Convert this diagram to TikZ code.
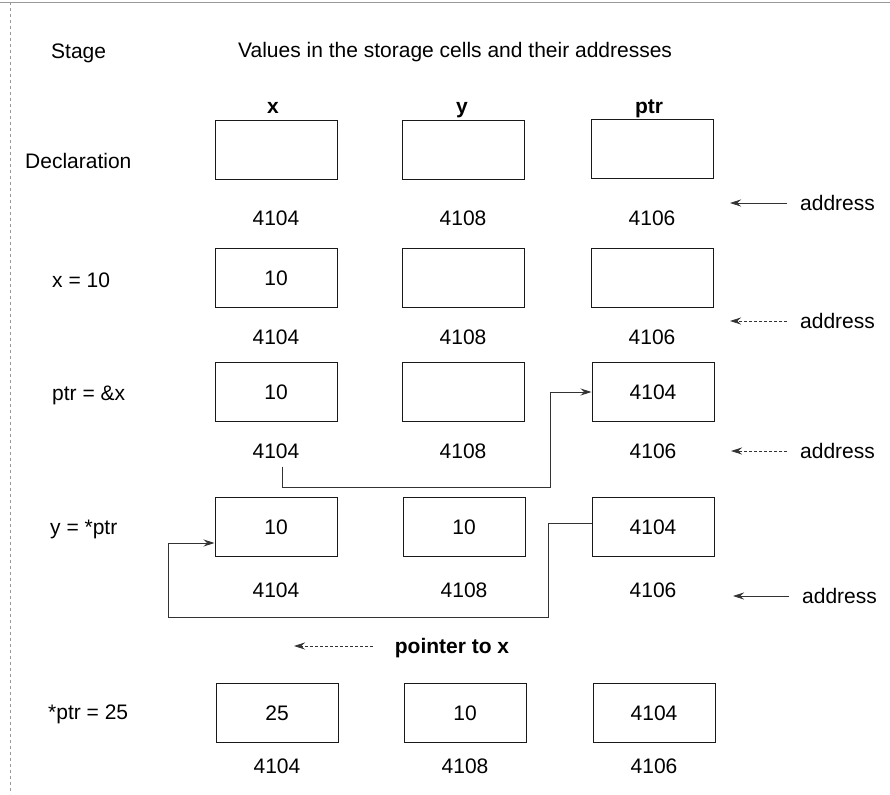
\documentclass[tikz,border=0pt]{standalone}
\usepackage{fontspec}
\setmainfont{Liberation Sans}
\usetikzlibrary{arrows.meta,calc}
\begin{document}
\begin{tikzpicture}[x=1pt,y=-1pt,
  every node/.style={font=\fontsize{21}{25}\selectfont, inner sep=0pt, text height=15pt, text depth=0pt},
  cell/.style={draw=black!90, line width=1pt, minimum width=122pt, minimum height=59pt},
  hdr/.style={font=\fontsize{21}{25}\selectfont\bfseries},
  conn/.style={draw=black!80, line width=0.8pt},
  tip/.style={-{Stealth[length=11pt,width=7pt]}},
  frame/.style={draw=black!40, line width=0.6pt}
]
\useasboundingbox (0,0) rectangle (890,794);
% frame
\draw[frame] (0,2) -- (890,2);
\draw[frame, dashed] (10,2) -- (10,794);

% titles
\node[anchor=west] (stage) at (51,51) {Stage};
\node[anchor=west] (title) at (238,50) {Values in the storage cells and their addresses};
\node[hdr] (hx) at (273,106) {x};
\node[hdr] (hy) at (462,106) {y};
\node[hdr] (hp) at (649,106) {ptr};

% stage labels
\node[anchor=west] (s1) at (25,161) {Declaration};
\node[anchor=west] (s2) at (52,280) {x = 10};
\node[anchor=west] (s3) at (52,393) {ptr = \&x};
\node[anchor=west] (s4) at (50,527) {y = *ptr};
\node[anchor=west] (s5) at (48,712) {*ptr = 25};

% row 1
\node[cell] (x1) at (276,150) {};
\node[cell] (y1) at (463,150) {};
\node[cell] (p1) at (652,149) {};
\node (ax1) at (276,218) {4104};
\node (ay1) at (463,218) {4108};
\node (ap1) at (652,218) {4106};
% row 2
\node[cell] (x2) at (276,278) {10};
\node[cell] (y2) at (463,278) {};
\node[cell] (p2) at (652,278) {};
\node (ax2) at (276,337) {4104};
\node (ay2) at (463,337) {4108};
\node (ap2) at (652,337) {4106};
% row 3
\node[cell] (x3) at (276,392) {10};
\node[cell] (y3) at (463,392) {};
\node[cell] (p3) at (653,392) {4104};
\node (ax3) at (276,451) {4104};
\node (ay3) at (463,451) {4108};
\node (ap3) at (653,451) {4106};
% row 4
\node[cell] (x4) at (276,527) {10};
\node[cell] (y4) at (464,527) {10};
\node[cell] (p4) at (653,527) {4104};
\node (ax4) at (276,590) {4104};
\node (ay4) at (464,590) {4108};
\node (ap4) at (653,590) {4106};
% row 5
\node[cell] (x5) at (277,713) {25};
\node[cell] (y5) at (465,713) {10};
\node[cell] (p5) at (654,713) {4104};
\node (ax5) at (277,766) {4104};
\node (ay5) at (465,766) {4108};
\node (ap5) at (654,766) {4106};

% address labels
\node[anchor=west] (ad1) at (800,203) {address};
\node[anchor=west] (ad2) at (800,321) {address};
\node[anchor=west] (ad3) at (800,451) {address};
\node[anchor=west] (ad4) at (802,596) {address};
\coordinate (ae1) at (730,203);
\coordinate (ae2) at (730,321);
\coordinate (ae3) at (731,451);
\coordinate (ae4) at (733,596);
\draw[conn,tip] ([xshift=-13pt]ad1.west) -- (ae1);
\draw[conn,tip,densely dashed] ([xshift=-13pt]ad2.west) -- (ae2);
\draw[conn,tip,densely dashed] ([xshift=-13pt]ad3.west) -- (ae3);
\draw[conn,tip] ([xshift=-13pt]ad4.west) -- (ae4);

% pointer to x
\node[hdr] (ptx) at (452,646) {pointer to x};
\coordinate (pe) at (294,646);
\draw[conn,tip,densely dashed] ([xshift=-22pt]ptx.west) -- (pe);

% connector stage 3: address of x into ptr
\coordinate (c1) at (550,487);
\draw[conn,tip] ([xshift=6pt,yshift=-8pt]ax3.south) |- (c1) |- (p3.west);

% connector stage 4: ptr dereferenced to x
\coordinate (c2) at (548,617);
\coordinate (c3) at (168,617);
\draw[conn,tip] ([yshift=4pt]p4.west) -| (c2) -- (c3) |- ([yshift=-16pt]x4.west);
\end{tikzpicture}
\end{document}
